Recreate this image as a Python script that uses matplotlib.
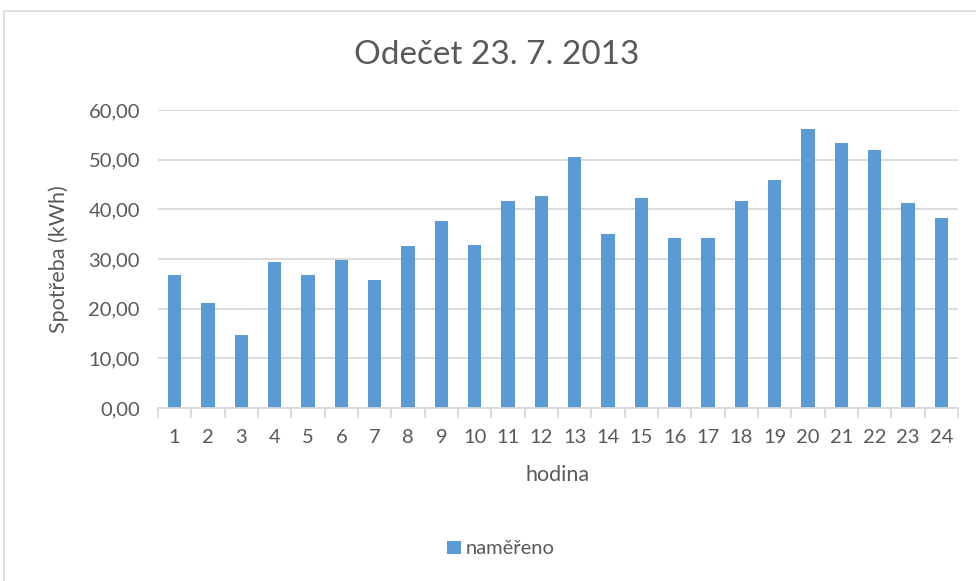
import numpy as np
import matplotlib

matplotlib.use("Agg")
import matplotlib.pyplot as plt
from matplotlib.patches import Rectangle
from matplotlib.ticker import FuncFormatter, FixedLocator

# hodnoty
hours = [str(h) for h in range(1, 25)]
consumption = [26.7, 21.1, 14.6, 29.4, 26.8, 29.7, 25.7, 32.7, 37.7, 32.8,
               41.7, 42.7, 50.6, 35.0, 42.3, 34.3, 34.2, 41.6, 45.9, 56.1,
               53.4, 51.9, 41.3, 38.3]
y_ticks = [0, 10, 20, 30, 40, 50, 60]

TEXT = "#595959"
GRID = "#d9d9d9"
BAR = "#5b9bd5"

plt.rcParams["font.family"] = ["Lato", "DejaVu Sans"]

fig = plt.figure(figsize=(9.76, 5.81), dpi=100)
fig.patches.append(Rectangle((4 / 976, -0.01), 1.0, 1 - 11 / 581 + 0.01,
                             transform=fig.transFigure, fill=False,
                             edgecolor=GRID, linewidth=1.2))

ax = fig.add_axes([158 / 976, 1 - 408 / 581, 800 / 976, 298 / 581])
x = np.arange(len(hours))
ax.bar(x, consumption, width=0.4, color=BAR, label="naměřeno", zorder=3)

ax.set_xlim(-0.5, len(hours) - 0.5)
ax.set_ylim(0, 60)
ax.yaxis.set_major_locator(FixedLocator(y_ticks))
ax.yaxis.set_major_formatter(FuncFormatter(lambda v, p: f"{v:.2f}".replace(".", ",")))
ax.grid(axis="y", color=GRID, linewidth=1.3, zorder=0)

ax.set_xticks(x)
ax.set_xticklabels(hours)
ax.set_xticks(np.arange(-0.5, len(hours)), minor=True)
ax.tick_params(axis="x", which="major", length=0, pad=15, labelsize=14.5, labelcolor=TEXT)
ax.tick_params(axis="x", which="minor", length=7, color=GRID, width=1.3)
ax.tick_params(axis="y", length=0, pad=13, labelsize=14.5, labelcolor=TEXT)

for s in ["top", "right", "left"]:
    ax.spines[s].set_visible(False)
ax.spines["bottom"].set_color(GRID)
ax.spines["bottom"].set_linewidth(1.3)
ax.spines["bottom"].set_zorder(4)

ax.set_xlabel("hodina", fontsize=15.5, color=TEXT, labelpad=14)
ax.set_ylabel("Spotřeba (kWh)", fontsize=15.5, color=TEXT, labelpad=14)
fig.text(497 / 976, 1 - 55 / 581, "Odečet 23. 7. 2013", ha="center", va="center",
         fontsize=24, color=TEXT)

fig.legend(loc="center", bbox_to_anchor=(501 / 976, 1 - 549 / 581), frameon=False,
           fontsize=14.5, labelcolor=TEXT, handlelength=0.65, handleheight=0.65,
           handletextpad=0.25)

fig.savefig("out.png", dpi=100)
